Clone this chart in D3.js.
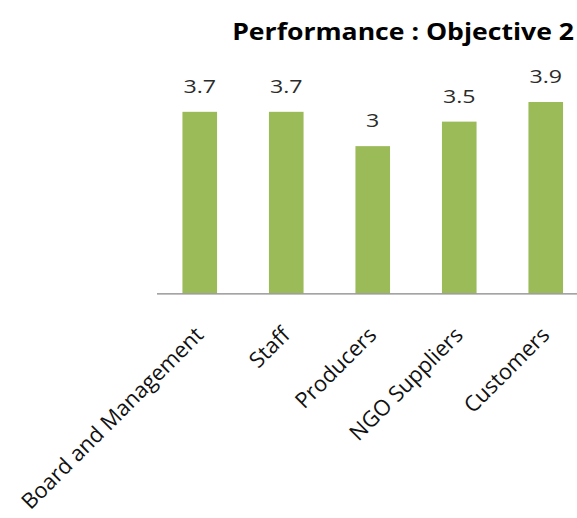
<!DOCTYPE html>
<html>
<head>
<meta charset="utf-8">
<script src="https://cdn.jsdelivr.net/npm/d3@7/dist/d3.min.js"></script>
<style>
  html, body { margin: 0; padding: 0; background: #ffffff; }
  svg { display: block; }
  text { font-family: "Open Sans", "Noto Sans", sans-serif; }
</style>
</head>
<body>
<svg id="chart" width="577" height="518"></svg>
<script>
// Chart data
const title = "Performance : Objective 2";
const categories = ["Board and Management", "Staff", "Producers", "NGO Suppliers", "Customers"];
const values = [3.7, 3.7, 3, 3.5, 3.9];

const W = 577, H = 518;
const svg = d3.select("#chart");

const plotLeft = 156.5, plotRight = 589;
const baseY = 293.3, pxPerUnit = 49.05;

const x = d3.scaleBand()
  .domain(categories)
  .range([plotLeft, plotRight])
  .paddingInner(0.6)
  .paddingOuter(0.3);

const y = d3.scaleLinear()
  .domain([0, 4])
  .range([baseY, baseY - 4 * pxPerUnit]);

// Bars
svg.append("g")
  .selectAll("rect")
  .data(values)
  .join("rect")
  .attr("x", (d, i) => x(categories[i]))
  .attr("width", x.bandwidth())
  .attr("y", d => y(d))
  .attr("height", d => y(0) - y(d))
  .attr("fill", "#9bbb59");

// Category axis: baseline only, rotated labels
const xAxis = svg.append("g")
  .attr("transform", `translate(0,${baseY})`)
  .call(d3.axisBottom(x).tickSize(0).tickFormat(""));
xAxis.select(".domain").attr("stroke", "#868686").attr("stroke-width", 1.3);

svg.append("g")
  .selectAll("text")
  .data(categories)
  .join("text")
  .attr("transform", d => `translate(${x(d) + x.bandwidth() / 2 + 5},${baseY + 43}) rotate(-45)`)
  .attr("text-anchor", "end")
  .attr("font-size", 21.8)
  .attr("fill", "#111111")
  .text(d => d);

// Value labels (slightly widened glyphs)
svg.append("g")
  .selectAll("text")
  .data(values)
  .join("text")
  .attr("transform", (d, i) => `translate(${x(categories[i]) + x.bandwidth() / 2},${y(d) - 19}) scale(1.22,1)`)
  .attr("text-anchor", "middle")
  .attr("font-size", 19)
  .attr("fill", "#2b2b2b")
  .text(d => d3.format("")(d));

// Title, right aligned and widened to span the plot
const titleText = svg.append("text")
  .attr("text-anchor", "end")
  .attr("font-size", 22.5)
  .attr("font-weight", "bold")
  .attr("fill", "#000000")
  .text(title);
const titleWidth = titleText.node().getComputedTextLength();
titleText.attr("transform", `translate(574,39.5) scale(${342 / titleWidth},1)`);
</script>
</body>
</html>
